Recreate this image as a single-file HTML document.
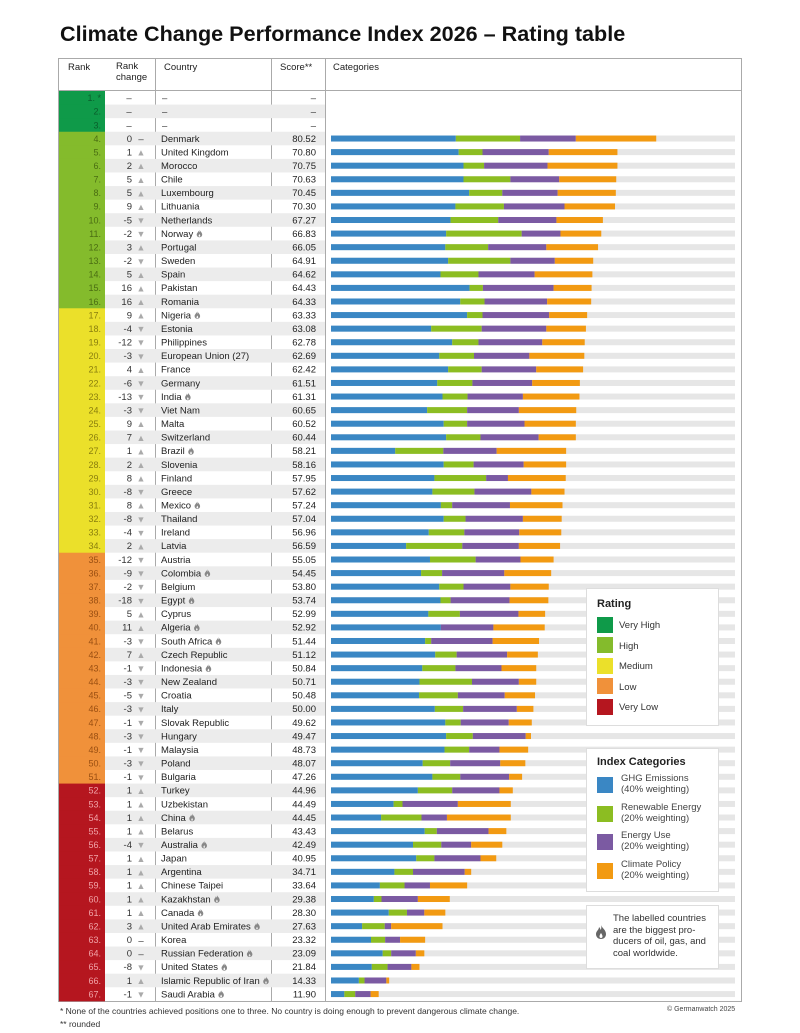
<!DOCTYPE html>
<html><head><meta charset="utf-8">
<style>
body{margin:0;background:#fff;font-family:"Liberation Sans",sans-serif;}
#wrap{position:relative;width:800px;height:1033px;overflow:hidden;}
.t{position:absolute;white-space:nowrap;}
.abs{position:absolute;}
</style></head>
<body>
<div id="wrap">
<div class="t" style="left:60px;top:21px;font-size:21.6px;font-weight:bold;color:#111;">Climate Change Performance Index 2026 – Rating table</div>
<div class="abs" style="left:58px;top:58px;width:682px;height:942px;border:1px solid #aaa;"></div>
<div class="abs" style="left:58px;top:90px;width:683px;height:1px;background:#aaa;"></div>
<div class="abs" style="left:155px;top:58px;width:1px;height:943px;background:#aaa;"></div>
<div class="abs" style="left:271px;top:58px;width:1px;height:943px;background:#aaa;"></div>
<div class="abs" style="left:325px;top:58px;width:1px;height:943px;background:#aaa;"></div>
<div class="t" style="left:68px;top:62px;font-size:9.5px;color:#222;">Rank</div>
<div class="t" style="left:116px;top:62px;font-size:9.5px;color:#222;line-height:10.5px;">Rank<br>change</div>
<div class="t" style="left:164px;top:62px;font-size:9.5px;color:#222;">Country</div>
<div class="t" style="left:280px;top:62px;font-size:9.5px;color:#222;">Score**</div>
<div class="t" style="left:333px;top:62px;font-size:9.5px;color:#222;">Categories</div>
<svg id="chart" class="abs" style="left:0;top:0" width="800" height="1033"></svg>

<div class="abs" style="left:586px;top:588px;width:131px;height:136px;background:#fff;border:1px solid #ddd;">
<div class="t" style="left:10px;top:9px;font-size:11px;font-weight:bold;color:#222;">Rating</div>
<div class="abs" style="left:10px;top:28px;width:16px;height:16px;background:#0f9a49"></div><div class="t" style="left:32px;top:31px;font-size:9.5px;color:#333">Very High</div>
<div class="abs" style="left:10px;top:48px;width:16px;height:16px;background:#84bb2c"></div><div class="t" style="left:32px;top:52px;font-size:9.5px;color:#333">High</div>
<div class="abs" style="left:10px;top:69px;width:16px;height:16px;background:#ebe02a"></div><div class="t" style="left:32px;top:72px;font-size:9.5px;color:#333">Medium</div>
<div class="abs" style="left:10px;top:89px;width:16px;height:16px;background:#f0913a"></div><div class="t" style="left:32px;top:93px;font-size:9.5px;color:#333">Low</div>
<div class="abs" style="left:10px;top:110px;width:16px;height:16px;background:#b5161f"></div><div class="t" style="left:32px;top:113px;font-size:9.5px;color:#333">Very Low</div>
</div>

<div class="abs" style="left:586px;top:748px;width:131px;height:142px;background:#fff;border:1px solid #ddd;">
<div class="t" style="left:10px;top:7px;font-size:11px;font-weight:bold;color:#222;">Index Categories</div>
<div class="abs" style="left:10px;top:28px;width:16px;height:16px;background:#3a87c4"></div><div class="t" style="left:34px;top:24px;font-size:9.5px;line-height:11px;color:#444">GHG Emissions<br>(40% weighting)</div>
<div class="abs" style="left:10px;top:57px;width:16px;height:16px;background:#8cbd22"></div><div class="t" style="left:34px;top:53px;font-size:9.5px;line-height:11px;color:#444">Renewable Energy<br>(20% weighting)</div>
<div class="abs" style="left:10px;top:85px;width:16px;height:16px;background:#7b5aa2"></div><div class="t" style="left:34px;top:81px;font-size:9.5px;line-height:11px;color:#444">Energy Use<br>(20% weighting)</div>
<div class="abs" style="left:10px;top:114px;width:16px;height:16px;background:#f29a12"></div><div class="t" style="left:34px;top:110px;font-size:9.5px;line-height:11px;color:#444">Climate Policy<br>(20% weighting)</div>
</div>

<div class="abs" style="left:586px;top:905px;width:131px;height:62px;background:#fff;border:1px solid #ddd;">
<svg class="abs" style="left:9px;top:19px" width="10" height="14" viewBox="0 0 10 14"><path d="M5 0 C6 3 10 5 10 9 C10 12 8 14 5 14 C2 14 0 12 0 9 C0 6 3 5 3 2 C4 3 4.5 4 4.5 5 C5.5 4 5.5 2 5 0 Z M5 8 C4 9.5 3.5 10.5 3.5 11.5 C3.5 12.5 4.2 13 5 13 C5.8 13 6.5 12.5 6.5 11.5 C6.5 10.5 6 9.5 5 8 Z" fill="#666" fill-rule="evenodd"/></svg>
<div class="t" style="left:26px;top:7px;font-size:9.5px;line-height:11.5px;color:#333">The labelled countries<br>are the biggest pro-<br>ducers of oil, gas, and<br>coal worldwide.</div>
</div>

<div class="t" style="left:667px;top:1006px;font-size:7px;color:#444">© Germanwatch 2025</div>
<div class="t" style="left:60px;top:1006px;font-size:8.5px;color:#333">* None of the countries achieved positions one to three. No country is doing enough to prevent dangerous climate change.</div>
<div class="t" style="left:60px;top:1019px;font-size:8.5px;color:#333">** rounded</div>
</div>
<script>
const countries=["Denmark","United Kingdom","Morocco","Chile","Luxembourg","Lithuania","Netherlands","Norway","Portugal","Sweden","Spain","Pakistan","Romania","Nigeria","Estonia","Philippines","European Union (27)","France","Germany","India","Viet Nam","Malta","Switzerland","Brazil","Slovenia","Finland","Greece","Mexico","Thailand","Ireland","Latvia","Austria","Colombia","Belgium","Egypt","Cyprus","Algeria","South Africa","Czech Republic","Indonesia","New Zealand","Croatia","Italy","Slovak Republic","Hungary","Malaysia","Poland","Bulgaria","Turkey","Uzbekistan","China","Belarus","Australia","Japan","Argentina","Chinese Taipei","Kazakhstan","Canada","United Arab Emirates","Korea","Russian Federation","United States","Islamic Republic of Iran","Saudi Arabia"];
const scores=["80.52","70.80","70.75","70.63","70.45","70.30","67.27","66.83","66.05","64.91","64.62","64.43","64.33","63.33","63.08","62.78","62.69","62.42","61.51","61.31","60.65","60.52","60.44","58.21","58.16","57.95","57.62","57.24","57.04","56.96","56.59","55.05","54.45","53.80","53.74","52.99","52.92","51.44","51.12","50.84","50.71","50.48","50.00","49.62","49.47","48.73","48.07","47.26","44.96","44.49","44.45","43.43","42.49","40.95","34.71","33.64","29.38","28.30","27.63","23.32","23.09","21.84","14.33","11.90"];
const rankChange=[0,1,2,5,5,9,-5,-2,3,-2,5,16,16,9,-4,-12,-3,4,-6,-13,-3,9,7,1,2,8,-8,8,-8,-4,2,-12,-9,-2,-18,5,11,-3,7,-1,-3,-5,-3,-1,-3,-1,-3,-1,1,1,1,1,-4,1,1,1,1,1,3,0,0,-8,1,-1];
const producers=["Norway","Nigeria","India","Brazil","Mexico","Colombia","Egypt","Algeria","South Africa","Indonesia","China","Australia","Kazakhstan","Canada","United Arab Emirates","Russian Federation","United States","Islamic Republic of Iran","Saudi Arabia"];
const ghg=[30.9,31.6,32.8,32.8,34.2,30.8,29.6,28.5,28.3,29.0,27.1,34.3,32.0,33.7,24.8,30.0,26.8,29.0,26.3,27.6,23.8,27.9,28.5,15.9,27.9,25.6,25.1,27.2,27.9,24.2,18.6,24.5,22.3,26.8,27.1,24.1,27.2,23.3,25.8,22.6,21.9,21.8,25.7,28.3,28.5,28.1,22.7,25.1,21.5,15.5,12.4,23.2,20.3,21.1,15.7,12.1,10.6,14.3,7.7,9.9,12.8,10.1,6.9,3.3];
const renewable=[15.9,5.9,5.1,11.6,8.2,12.0,11.8,18.7,10.6,15.4,9.4,3.3,6.0,3.8,12.5,6.5,8.6,8.3,8.7,6.2,9.9,5.8,8.5,11.9,7.4,12.8,10.4,2.8,5.4,8.8,13.9,11.3,5.2,6.0,2.5,7.8,0,1.5,5.3,8.2,13.0,9.6,7.0,3.8,6.6,6.1,6.8,6.9,8.5,2.2,10.0,3.0,7.0,4.5,4.6,6.1,1.9,4.5,5.6,3.5,2.1,3.9,1.4,2.7];
const energyUse=[13.8,16.4,15.7,12.1,13.7,15.0,14.4,9.6,14.4,11.0,13.9,17.5,15.5,16.5,16.0,15.8,13.7,13.5,14.8,13.7,12.8,14.2,14.4,13.2,12.4,5.4,14.1,14.3,14.2,13.6,14.0,11.1,15.4,11.6,14.6,14.5,13.0,15.2,12.5,11.4,11.6,11.6,13.3,11.9,13.1,7.5,12.4,12.1,11.7,13.7,6.3,12.8,7.4,11.4,12.8,6.3,9.0,4.3,1.6,3.7,6.1,5.9,5.4,3.8];
const policy=[19.9,17.0,17.3,14.1,14.4,12.5,11.5,10.1,12.8,9.5,14.3,9.4,10.9,9.4,9.8,10.5,13.6,11.6,11.8,14.0,14.2,12.7,9.2,17.2,10.5,14.3,8.2,13.0,9.6,10.4,10.2,8.2,11.6,9.5,9.6,6.6,12.7,11.5,7.6,8.6,4.3,7.5,4.1,5.7,1.3,7.1,6.2,3.2,3.3,13.1,15.8,4.4,7.7,3.9,1.6,9.2,7.9,5.2,12.7,6.2,2.1,2.0,0.7,2.0];

const NS="http://www.w3.org/2000/svg";
const svg=document.getElementById('chart');
const ROW0=91, RH=13.58, X0=331, PX=4.04;
function xS(v){return X0+v*PX;}
function yRow(i){return ROW0+i*RH;}
function mk(tag,attrs,parent){const e=document.createElementNS(NS,tag);for(const k in attrs)e.setAttribute(k,attrs[k]);(parent||svg).appendChild(e);return e;}
function txt(x,y,s,anchor,fill,size){const e=mk('text',{x:x,y:y,'font-size':size||9.5,'text-anchor':anchor||'start',fill:fill||'#222','font-family':'Liberation Sans, DejaVu Sans, sans-serif'});e.textContent=s;return e;}
function rating(r){if(r<=3)return['#0f9a49','#0a5e2c'];if(r<=16)return['#84bb2c','#4a6d12'];if(r<=34)return['#ebe02a','#8a7f0e'];if(r<=51)return['#f0913a','#9a4f12'];return['#b5161f','#f1a4a8'];}
const segs=[ghg,renewable,energyUse,policy];
const cols=['#3a87c4','#8cbd22','#7b5aa2','#f29a12'];
const FLAME="M5 0 C6 3 10 5 10 9 C10 12 8 14 5 14 C2 14 0 12 0 9 C0 6 3 5 3 2 C4 3 4.5 4 4.5 5 C5.5 4 5.5 2 5 0 Z M5 8 C4 9.5 3.5 10.5 3.5 11.5 C3.5 12.5 4.2 13 5 13 C5.8 13 6.5 12.5 6.5 11.5 C6.5 10.5 6 9.5 5 8 Z";
for(let i=0;i<67;i++){
  const rank=i+1, y=yRow(i), cy=y+RH/2;
  const [bg,fg]=rating(rank);
  let r=mk('rect',{x:59,y:y,width:46,height:RH+0.5,fill:bg});
  
  
  if(rank%2===0){let g=mk('rect',{x:105,y:y,width:220,height:RH,fill:'#ececec'});
    
    }
  let rt=txt(101,cy+3.3,rank+'.'+(rank===1?' *':''),'end',fg,9);
  
  
  if(i<3){
    let d1=txt(129,cy+3.3,'–','middle','#333');
    let d2=txt(162,cy+3.3,'–','start','#333');
    let d3=txt(316,cy+3.3,'–','end','#333');
    continue;
  }
  const k=i-3, ch=rankChange[k];
  let ct=txt(132,cy+3.3,String(ch),'end','#333');
  
  
  let sym=txt(141,cy+3.5,ch>0?'▲':(ch<0?'▼':'–'),'middle',ch===0?'#333':'#aaa',ch===0?9.5:9);
  
  
  let nm=txt(161,cy+3.3,countries[k],'start','#222');
  
  
  if(producers.includes(countries[k])){
    const w=nm.getComputedTextLength();
    let f=mk('path',{d:FLAME,fill:'#888',transform:'translate('+(161+w+3.5)+','+(cy-4)+') scale(0.55)'});
    
    
  }
  let sc=txt(316,cy+3.3,scores[k],'end','#222');
  
  
  let bgBar=mk('rect',{x:X0,y:cy-3,width:xS(100)-X0,height:6,fill:'#e6e6e6'});
  
  
  let acc=0;
  for(let s=0;s<4;s++){
    const v=segs[s][k];
    let b=mk('rect',{x:xS(acc),y:cy-3,width:Math.max(0,xS(acc+v)-xS(acc)),height:6,fill:cols[s]});
    
    
    acc+=v;
  }
}
</script>
</body></html>
